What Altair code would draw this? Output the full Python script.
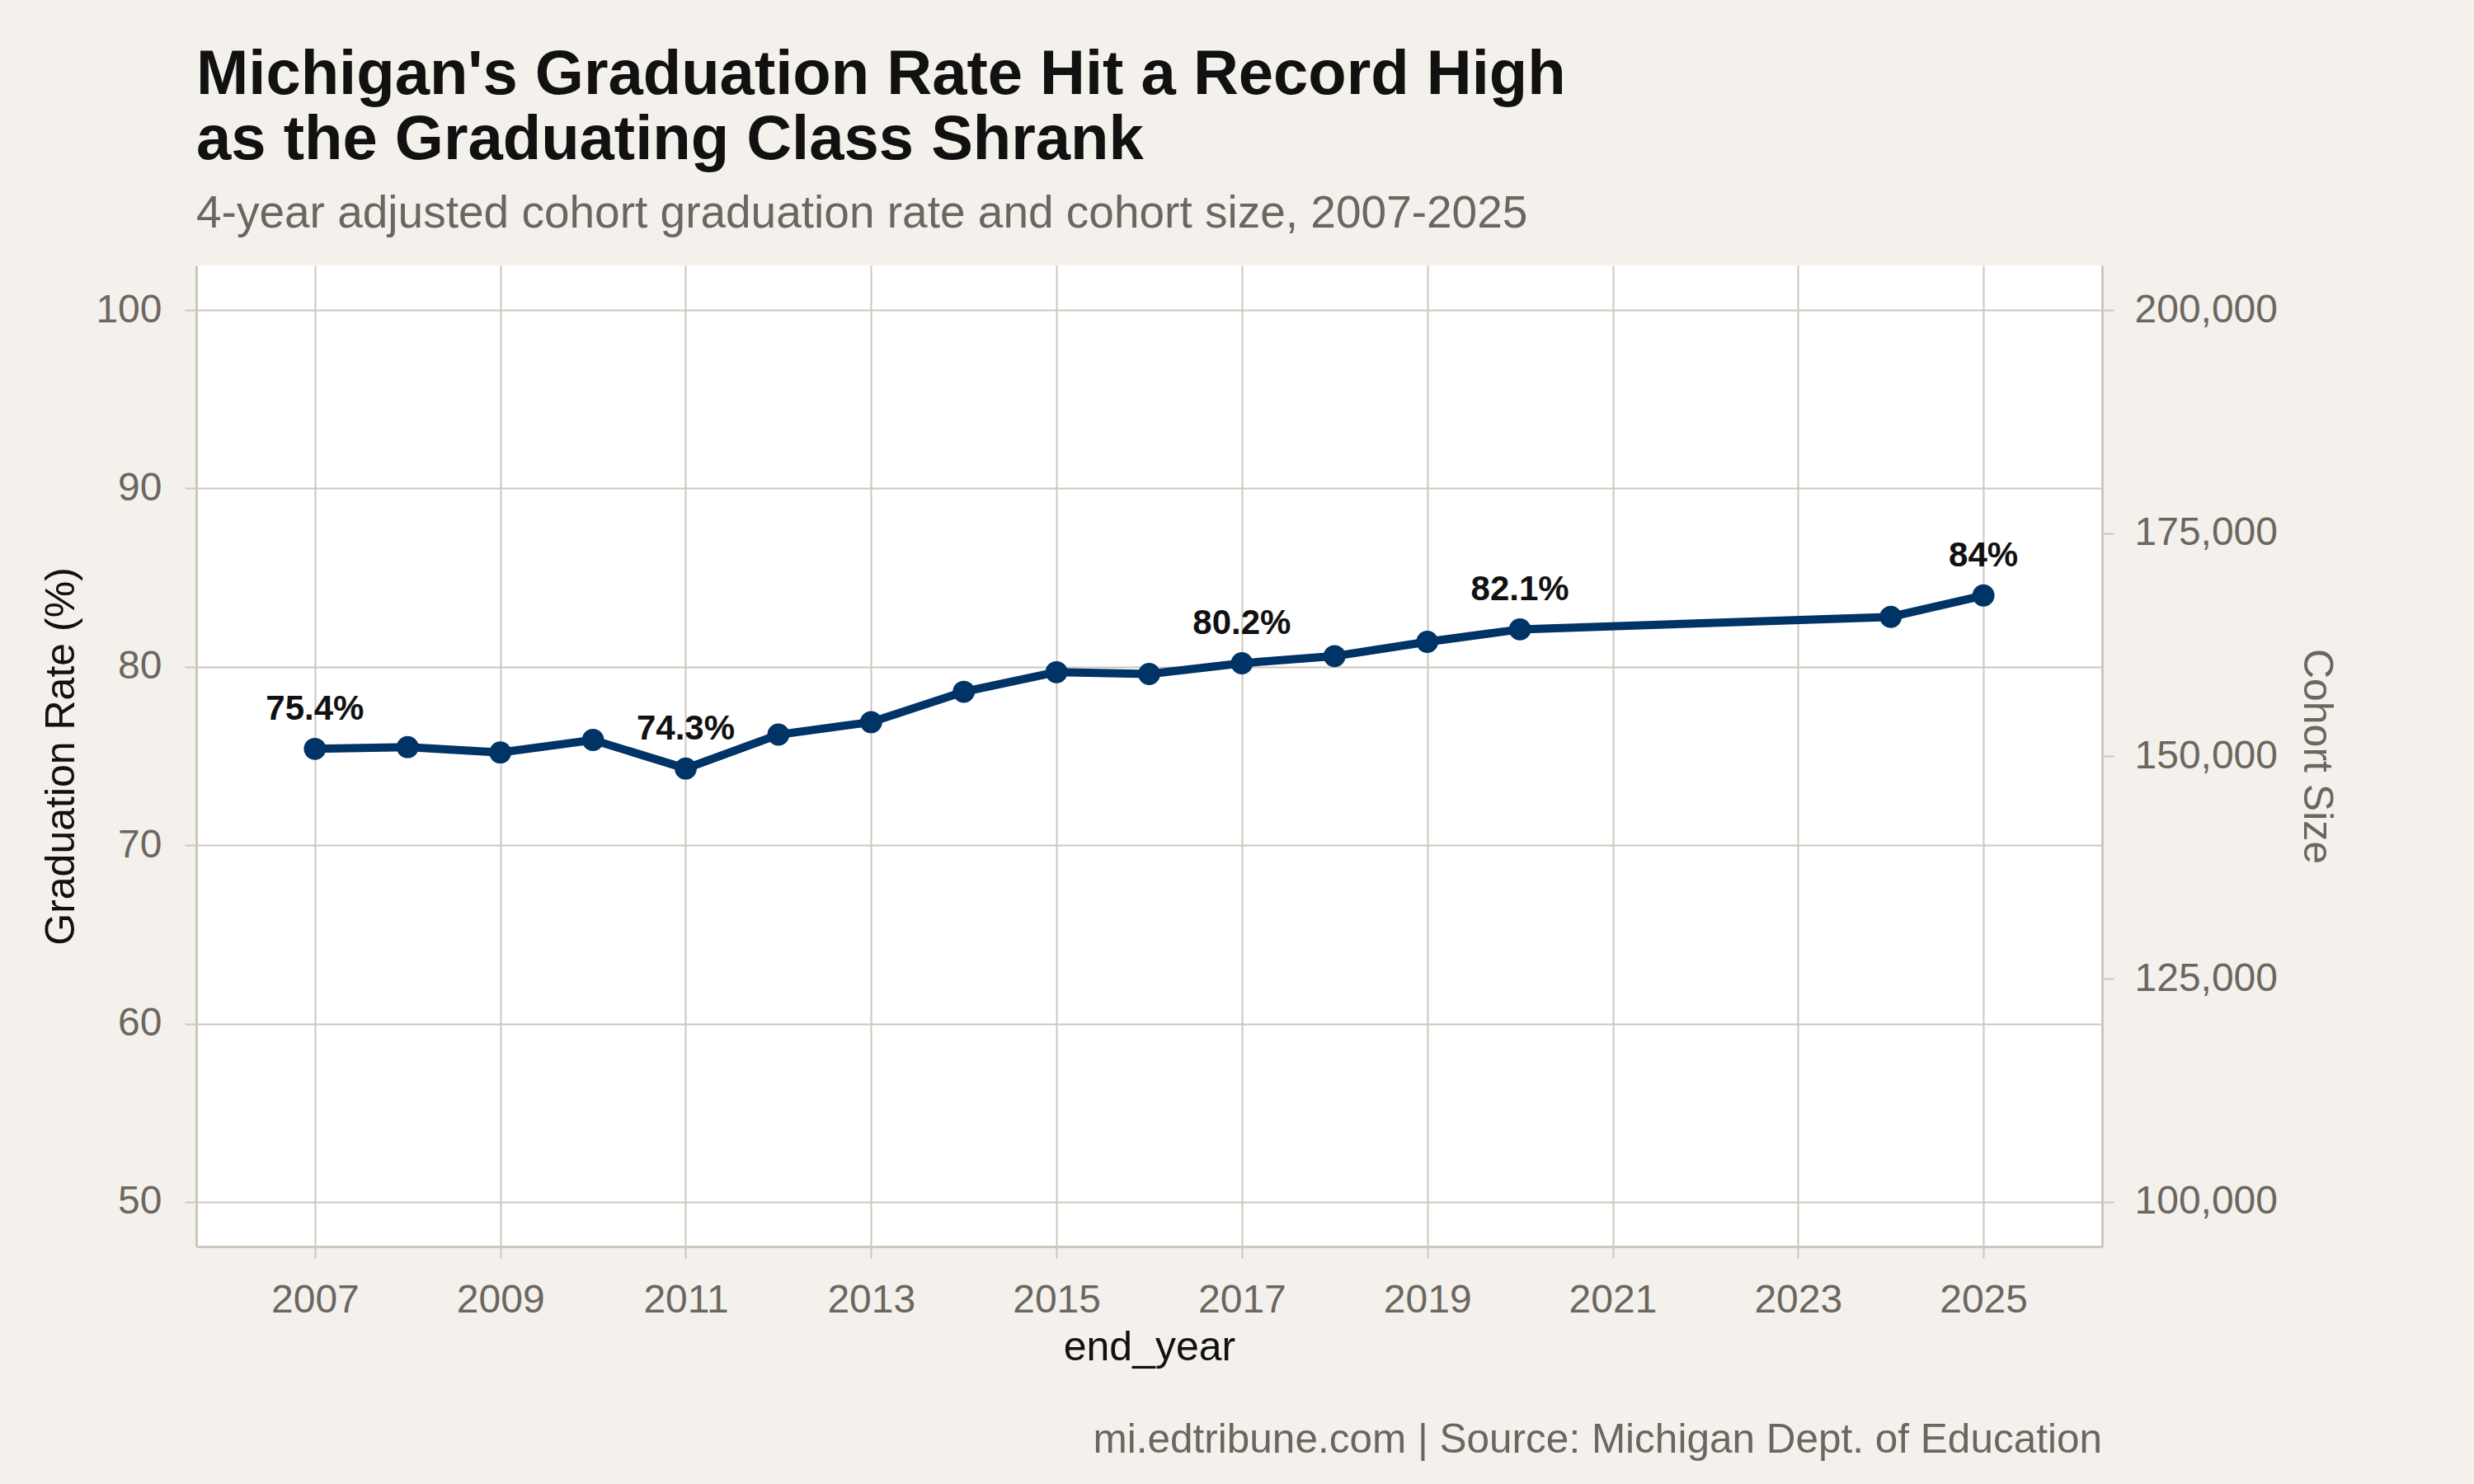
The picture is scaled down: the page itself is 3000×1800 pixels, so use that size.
import altair as alt
import pandas as pd

# ---- data ----
years = [2007, 2008, 2009, 2010, 2011, 2012, 2013, 2014, 2015, 2016,
         2017, 2018, 2019, 2020, 2024, 2025]
grad_rate = [75.4, 75.5, 75.2, 75.9, 74.3, 76.2, 76.9, 78.6, 79.7, 79.6,
             80.2, 80.6, 81.4, 82.1, 82.8, 84.0]

label_years = [2007, 2011, 2017, 2020, 2025]
label_rates = [75.4, 74.3, 80.2, 82.1, 84.0]
label_texts = ["75.4%", "74.3%", "80.2%", "82.1%", "84%"]

x_ticks = [2007, 2009, 2011, 2013, 2015, 2017, 2019, 2021, 2023, 2025]
y_ticks = [50, 60, 70, 80, 90, 100]
cohort_ticks = [100000, 125000, 150000, 175000, 200000]

title_lines = ["Michigan's Graduation Rate Hit a Record High",
               "as the Graduating Class Shrank"]
subtitle = "4-year adjusted cohort graduation rate and cohort size, 2007-2025"
caption = "mi.edtribune.com | Source: Michigan Dept. of Education"

FONT = "Liberation Sans"
NAVY = "#003366"
GRID = "#cdc7bd"
GRAY = "#6b6760"
BG = "#f4f1ec"

W, H = 2311, 1190

df = pd.DataFrame({"end_year": years, "rate": grad_rate})
lab = pd.DataFrame({"end_year": label_years, "rate": label_rates, "label": label_texts})
coh = pd.DataFrame({"cohort": cohort_ticks})
cap = pd.DataFrame({"caption": [caption]})

x_enc = alt.X("end_year:Q",
              scale=alt.Scale(domain=[2005.72, 2026.28], nice=False, zero=False),
              axis=alt.Axis(values=x_ticks, format="d", title="end_year",
                            labelPadding=27, titlePadding=8))
y_enc = alt.Y("rate:Q",
              scale=alt.Scale(domain=[47.5, 102.5], nice=False, zero=False),
              axis=alt.Axis(values=y_ticks, title="Graduation Rate (%)",
                            labelPadding=28, titlePadding=16))

line = alt.Chart(df).mark_line(color=NAVY, strokeWidth=10).encode(x=x_enc, y=y_enc)
points = alt.Chart(df).mark_circle(color=NAVY, size=720, opacity=1).encode(
    x="end_year:Q", y="rate:Q")
labels = alt.Chart(lab).mark_text(
    font=FONT, fontSize=42, fontWeight="bold", color="#111111",
    baseline="middle", dy=-48).encode(x="end_year:Q", y="rate:Q", text="label:N")

left = alt.layer(line, points, labels)

right = alt.Chart(coh).mark_rule(opacity=0).encode(
    y=alt.Y("cohort:Q",
            scale=alt.Scale(domain=[95000, 205000], nice=False, zero=False),
            axis=alt.Axis(orient="right", values=cohort_ticks, format=",d",
                          title="Cohort Size", grid=False, titleColor=GRAY,
                          labelPadding=25, titlePadding=34)))

capt = alt.Chart(cap).mark_text(
    font=FONT, fontSize=49.5, color=GRAY, align="right", baseline="alphabetic").encode(
    x=alt.value(W), y=alt.value(H + 250), text="caption:N")

chart = alt.layer(left, right, capt).resolve_scale(y="independent").properties(
    width=W, height=H,
    background=BG,
    autosize=alt.AutoSizeParams(type="none"),
    padding={"left": 238, "top": 322, "right": 451, "bottom": 288},
    title=alt.Title(text=title_lines, subtitle=subtitle, anchor="start", frame="group",
                    font=FONT, fontSize=76, fontWeight="bold", color="#111111",
                    lineHeight=79, subtitleFont=FONT, subtitleFontSize=55,
                    subtitleColor=GRAY, subtitlePadding=24, offset=34),
).configure_view(fill="white", stroke=None).configure_axis(
    labelFont=FONT, labelFontSize=48, labelColor=GRAY,
    titleFont=FONT, titleFontSize=50, titleColor="#111111", titleFontWeight="normal",
    domainColor=GRID, domainWidth=3, tickColor=GRID, tickWidth=2, tickSize=14,
    gridColor=GRID, gridWidth=2, gridOpacity=1,
)

chart.save("out.html", embed_options={"renderer": "svg", "actions": False})
